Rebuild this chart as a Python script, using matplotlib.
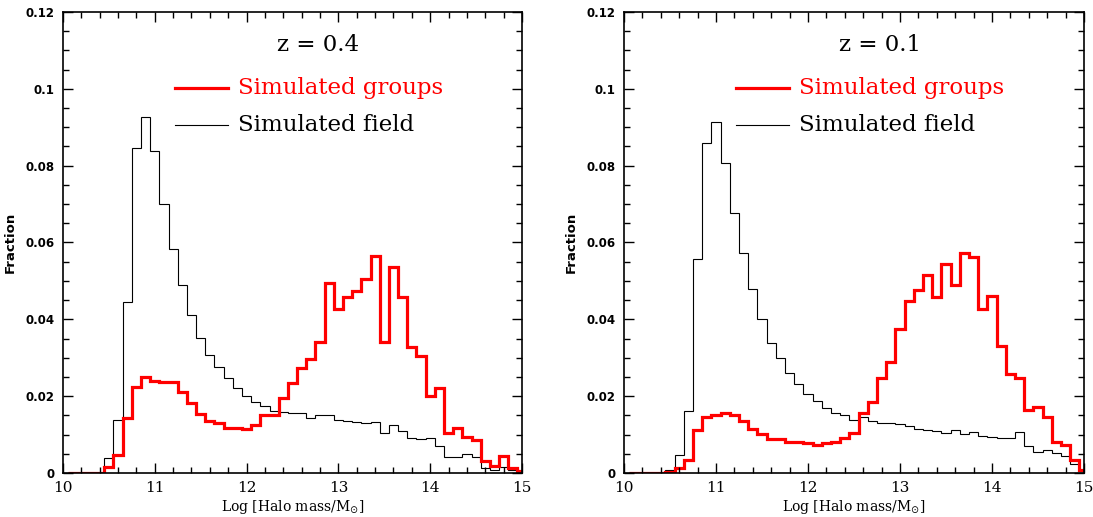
import matplotlib
matplotlib.use("Agg")
import matplotlib.pyplot as plt
from matplotlib.ticker import MultipleLocator, FixedLocator
import numpy as np

# bin centres of log halo mass (bin width 0.1, last bin cut at 15)
mass = np.round(np.arange(10.1, 15.05, 0.1), 2)

# z = 0.4
groups_z04 = [0, 0, 0, 0, 0.0016, 0.0046, 0.0142, 0.0223, 0.0249, 0.0239, 0.0238,
              0.0236, 0.0211, 0.0181, 0.0153, 0.0136, 0.0129, 0.0118, 0.0117, 0.0114, 0.0126,
              0.0150, 0.0150, 0.0196, 0.0233, 0.0274, 0.0296, 0.0340, 0.0494, 0.0426, 0.0459,
              0.0474, 0.0505, 0.0565, 0.0342, 0.0537, 0.0458, 0.0329, 0.0304, 0.0201, 0.0220,
              0.0104, 0.0116, 0.0094, 0.0085, 0.0031, 0.0018, 0.0044, 0.0012, 0.0004]
field_z04 = [0, 0, 0, 0, 0.0038, 0.0137, 0.0446, 0.0845, 0.0927, 0.0837, 0.0701,
             0.0584, 0.0490, 0.0410, 0.0351, 0.0307, 0.0275, 0.0246, 0.0220, 0.0200, 0.0184,
             0.0174, 0.0161, 0.0158, 0.0157, 0.0156, 0.0144, 0.0151, 0.0150, 0.0137, 0.0136,
             0.0133, 0.0131, 0.0134, 0.0105, 0.0126, 0.0110, 0.0090, 0.0089, 0.0090, 0.0070,
             0.0042, 0.0042, 0.0050, 0.0042, 0.0014, 0.0007, 0.0016, 0.0009, 0.0005]

# z = 0.1
groups_z01 = [0, 0, 0, 0, 0.0003, 0.0013, 0.0035, 0.0113, 0.0145, 0.0152, 0.0155,
              0.0151, 0.0135, 0.0114, 0.0101, 0.0088, 0.0088, 0.0081, 0.0082, 0.0077, 0.0074,
              0.0078, 0.0081, 0.0090, 0.0105, 0.0155, 0.0184, 0.0246, 0.0288, 0.0374, 0.0448,
              0.0477, 0.0516, 0.0458, 0.0544, 0.0490, 0.0572, 0.0562, 0.0426, 0.0461, 0.0331,
              0.0259, 0.0248, 0.0164, 0.0172, 0.0146, 0.0081, 0.0072, 0.0035, 0.0007]
field_z01 = [0, 0, 0, 0, 0.0007, 0.0048, 0.0162, 0.0556, 0.0859, 0.0914, 0.0807,
             0.0678, 0.0573, 0.0480, 0.0401, 0.0339, 0.0300, 0.0261, 0.0231, 0.0206, 0.0187,
             0.0168, 0.0157, 0.0151, 0.0139, 0.0145, 0.0135, 0.0130, 0.0131, 0.0127, 0.0122,
             0.0114, 0.0113, 0.0109, 0.0105, 0.0112, 0.0102, 0.0108, 0.0096, 0.0093, 0.0091,
             0.0091, 0.0106, 0.0070, 0.0054, 0.0061, 0.0053, 0.0044, 0.0023, 0.0005]

panels = [("z = 0.4", groups_z04, field_z04), ("z = 0.1", groups_z01, field_z01)]

xticks = [10, 11, 12, 13, 14, 15]
yticks = [0, 0.02, 0.04, 0.06, 0.08, 0.1, 0.12]
ylabels = ["0", "0.02", "0.04", "0.06", "0.08", "0.1", "0.12"]

edges = np.append(mass[:-1] - 0.05, [14.95, 15.0])

fig = plt.figure(figsize=(10.93, 5.17), dpi=100)
axes = [fig.add_axes([0.0576, 0.0851, 0.420, 0.8917]),
        fig.add_axes([0.5709, 0.0851, 0.4209, 0.8917])]

serif = "DejaVu Serif"

for ax, (label, groups, field) in zip(axes, panels):
    ax.stairs(field, edges, color="black", lw=0.8, baseline=0)
    ax.stairs(groups, edges, color="red", lw=2.3, baseline=0)

    ax.set_xlim(10, 15)
    ax.set_ylim(0, 0.12)

    ax.xaxis.set_major_locator(FixedLocator(xticks))
    ax.xaxis.set_minor_locator(MultipleLocator(0.2))
    ax.yaxis.set_major_locator(FixedLocator(yticks))
    ax.yaxis.set_minor_locator(MultipleLocator(0.005))
    ax.set_yticklabels(ylabels, fontsize=8.5, fontweight="bold")
    ax.set_xticklabels([str(v) for v in xticks], fontsize=11, family=serif)
    ax.tick_params(which="both", direction="in", top=True, right=True, width=1)
    ax.tick_params(which="major", length=7, pad=6)
    ax.tick_params(which="minor", length=4)
    for s in ax.spines.values():
        s.set_linewidth(1.2)

    ax.set_xlabel(r"Log [Halo mass/M$_{\odot}$]", family=serif, fontsize=10, labelpad=2)
    ax.set_ylabel("Fraction", fontsize=9.5, fontweight="bold", labelpad=6)

    # labels and key
    ax.text(0.556, 0.928, label, transform=ax.transAxes, ha="center", va="center",
            family=serif, fontsize=16.5)
    ax.plot([0.244, 0.359], [0.835, 0.835], color="red", lw=2.3, transform=ax.transAxes)
    ax.text(0.381, 0.835, "Simulated groups", transform=ax.transAxes, va="center",
            color="red", family=serif, fontsize=16.5)
    ax.plot([0.244, 0.359], [0.755, 0.755], color="black", lw=0.8, transform=ax.transAxes)
    ax.text(0.381, 0.755, "Simulated field", transform=ax.transAxes, va="center",
            color="black", family=serif, fontsize=16.5)

fig.savefig("out.png", dpi=100)
